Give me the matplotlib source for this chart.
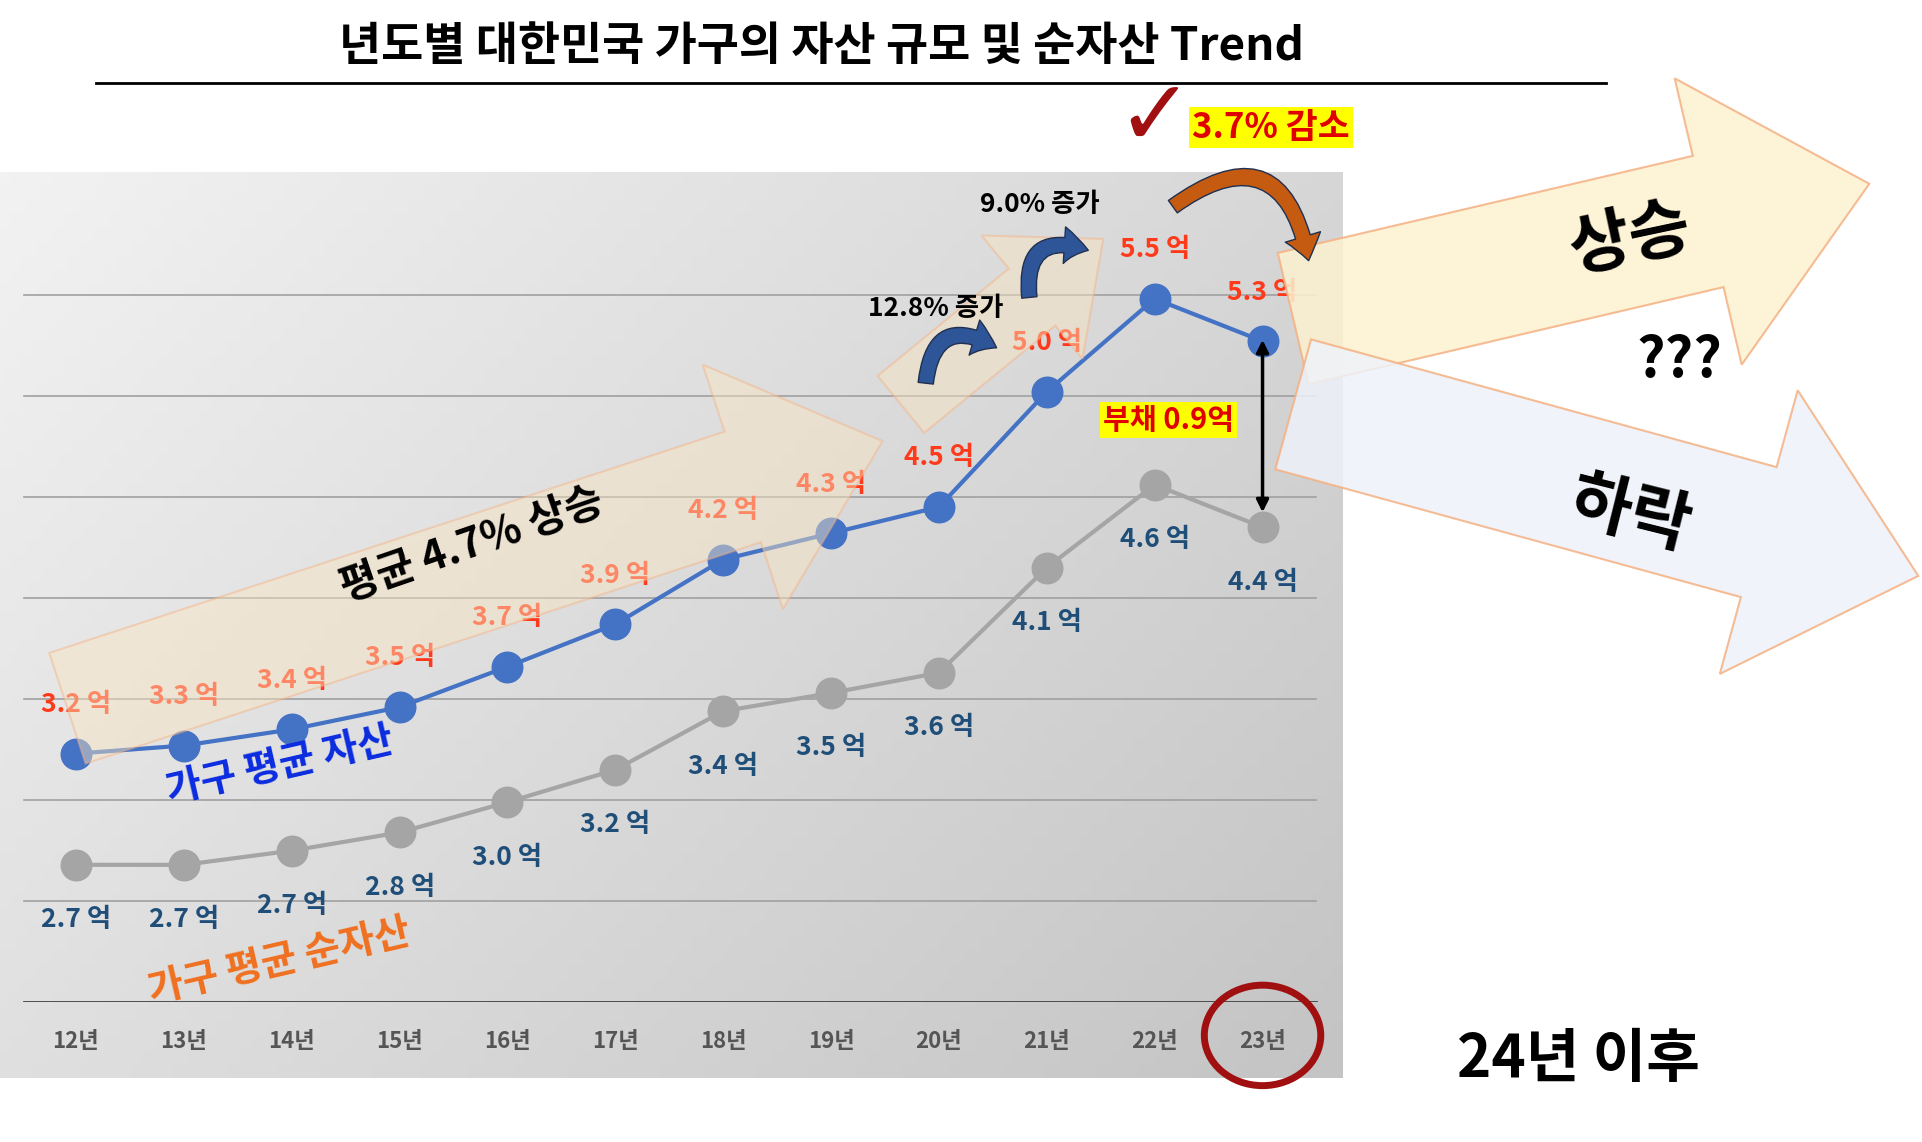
import matplotlib
matplotlib.use("Agg")
import matplotlib.pyplot as plt
import numpy as np
from matplotlib.patches import Polygon, FancyArrowPatch, Ellipse

plt.rcParams['font.family'] = ['Noto Sans CJK KR', 'DejaVu Sans']
plt.rcParams['font.weight'] = 'bold'

years = ['12년', '13년', '14년', '15년', '16년', '17년', '18년', '19년', '20년', '21년', '22년', '23년']
assets = [3.2, 3.3, 3.4, 3.5, 3.7, 3.9, 4.2, 4.3, 4.5, 5.0, 5.5, 5.3]
net_assets = [2.7, 2.7, 2.7, 2.8, 3.0, 3.2, 3.4, 3.5, 3.6, 4.1, 4.6, 4.4]
asset_pos = [3.23, 3.27, 3.35, 3.46, 3.66, 3.87, 4.19, 4.32, 4.45, 5.02, 5.48, 5.27]
net_pos = [2.68, 2.68, 2.75, 2.84, 2.99, 3.15, 3.44, 3.53, 3.63, 4.15, 4.56, 4.35]

W, H = 1568, 932
fig = plt.figure(figsize=(19.22, 11.42), dpi=100)
def fx(x): return x / W
def fy(y): return 1 - y / H

bg = fig.add_axes([0, fy(880), fx(1095), fy(140) - fy(880)])
grad = np.linspace(0, 1, 256).reshape(1, -1) * 0.6 + np.linspace(0, 1, 64).reshape(-1, 1) * 0.4
bg.imshow(grad, cmap=matplotlib.colors.LinearSegmentedColormap.from_list('g', ['#f2f2f2', '#c4c4c4']),
          aspect='auto', extent=[0, 1, 0, 1])
bg.axis('off')

ax = fig.add_axes([0, fy(818), fx(1095), fy(140) - fy(818)])
ax.set_facecolor('none')
x = np.arange(len(years))
ax.set_xlim(-62 / 88, (1095 - 62) / 88)
ax.set_ylim(2.0, 2.0 + 678 / 165)
for g in np.arange(2.5, 6.0, 0.5):
    ax.plot([-0.48, 11.5], [g, g], color='#a0a0a0', lw=1.2, zorder=1)
ax.plot([-0.48, 11.5], [2.0, 2.0], color='#404040', lw=2, zorder=1)
for s in ax.spines.values():
    s.set_visible(False)
ax.set_yticks([])
ax.set_xticks(x)
ax.set_xticklabels(years, fontsize=16, color='#555555')
ax.tick_params(axis='x', length=0, pad=20)
ax.plot(x, net_pos, color='#A5A5A5', lw=3, marker='o', ms=22, zorder=3)
ax.plot(x, asset_pos, color='#4472C4', lw=3, marker='o', ms=22, zorder=4)
for i in range(len(x)):
    ax.annotate(f'{assets[i]:.1f} 억', (x[i], asset_pos[i]), xytext=(0, 30), textcoords='offset points',
                ha='center', color='#FF3A1A', fontsize=19, fontweight='bold', zorder=5)
    ax.annotate(f'{net_assets[i]:.1f} 억', (x[i], net_pos[i]), xytext=(0, -45), textcoords='offset points',
                ha='center', color='#1F4E79', fontsize=19, fontweight='bold', zorder=5)
ax.annotate('', xy=(11, 5.29), xytext=(11, 4.41),
            arrowprops=dict(arrowstyle='<|-|>', color='black', lw=2.5, mutation_scale=18), zorder=6)

ov = fig.add_axes([0, 0, 1, 1])
ov.set_xlim(0, W); ov.set_ylim(H, 0); ov.axis('off')

def arrow(p0, p1, w, hw, hl, fc, ec, alpha):
    p0 = np.array(p0, float); p1 = np.array(p1, float)
    d = p1 - p0; L = np.linalg.norm(d); u = d / L; n = np.array([-u[1], u[0]])
    b = p1 - u * hl
    pts = [p0 + n * w / 2, b + n * w / 2, b + n * hw / 2, p1, b - n * hw / 2, b - n * w / 2, p0 - n * w / 2]
    ov.add_patch(Polygon(pts, closed=True, fc=fc, ec=ec, alpha=alpha, lw=1.5, zorder=7))

arrow((55, 578), (720, 360), 95, 210, 120, '#FBE5C0', '#F4B183', 0.45)
arrow((735, 330), (900, 195), 60, 130, 75, '#FBE5C0', '#F4B183', 0.45)
arrow((1055, 260), (1525, 150), 110, 240, 135, '#FDF2D0', '#F4B183', 0.85)
arrow((1055, 330), (1565, 470), 110, 240, 135, '#EEF2FA', '#F4B183', 0.85)

ov.text(670, 38, '년도별 대한민국 가구의 자산 규모 및 순자산 Trend', ha='center', va='center', fontsize=33, fontweight='bold')
ov.plot([78, 1310], [68, 68], color='black', lw=2)
ov.text(385, 445, '평균 4.7% 상승', ha='center', va='center', fontsize=30, fontweight='bold', rotation=19, zorder=8)
ov.text(228, 625, '가구 평균 자산', ha='center', va='center', fontsize=28, color='#0A2BE0', rotation=13, zorder=8)
ov.text(228, 785, '가구 평균 순자산', ha='center', va='center', fontsize=28, color='#F07020', rotation=13, zorder=8)
ov.text(763, 252, '12.8% 증가', ha='center', va='center', fontsize=19, zorder=8)
ov.text(848, 167, '9.0% 증가', ha='center', va='center', fontsize=19, zorder=8)
ov.text(1037, 104, '3.7% 감소', ha='center', va='center', fontsize=25, color='#E00000', zorder=8,
        bbox=dict(fc='#FFFF00', ec='none', pad=2))
ov.text(953, 343, '부채 0.9억', ha='center', va='center', fontsize=21, color='#E00000', zorder=8,
        bbox=dict(fc='#FFFF00', ec='none', pad=2))
ov.text(1330, 195, '상승', ha='center', va='center', fontsize=48, rotation=12, zorder=8)
ov.text(1370, 295, '???', ha='center', va='center', fontsize=40, zorder=8)
ov.text(1330, 420, '하락', ha='center', va='center', fontsize=48, rotation=-14, zorder=8)
ov.text(1288, 865, '24년 이후', ha='center', va='center', fontsize=42, zorder=8)
ov.text(942, 98, '✓', ha='center', va='center', fontsize=66, color='#A01010', family='DejaVu Sans', zorder=8)
for a, b, c in [((755, 315), (815, 285), '#2E5597'), ((840, 245), (890, 205), '#2E5597'), ((955, 170), (1068, 215), '#C55A11')]:
    ov.add_patch(FancyArrowPatch(a, b, connectionstyle='arc3,rad=-0.8', arrowstyle='simple,head_width=1.2,head_length=0.8,tail_width=0.5',
                                 mutation_scale=22, fc=c, ec='#203050', lw=1, zorder=8))
ov.add_patch(Ellipse((1030, 845), 95, 82, fill=False, ec='#A01010', lw=5, zorder=8))

fig.savefig('out.png', dpi=100)
